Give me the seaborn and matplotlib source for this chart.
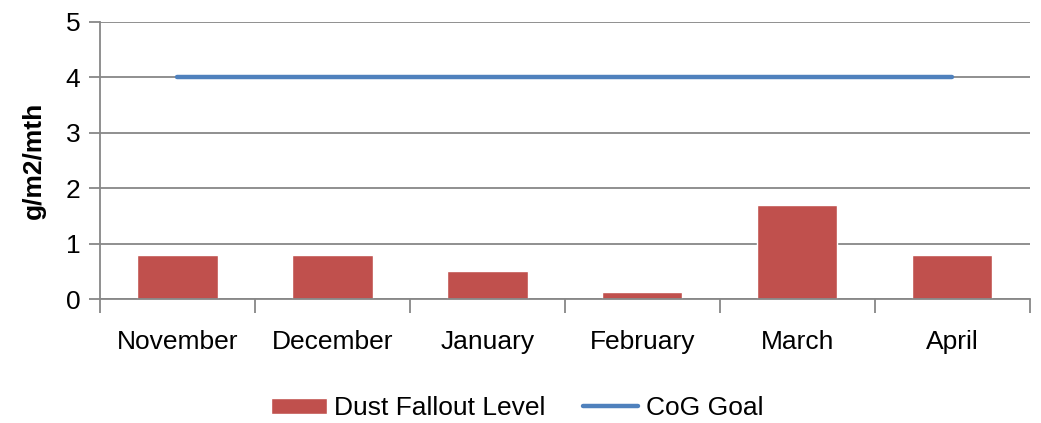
import numpy as np
import matplotlib
matplotlib.use("Agg")
import matplotlib.pyplot as plt
import seaborn as sns
import pandas as pd

months = ["November", "December", "January", "February", "March", "April"]
dust = [0.8, 0.8, 0.5, 0.12, 1.7, 0.8]
goal = [4, 4, 4, 4, 4, 4]

sns.set_style("white")
plt.rcParams["font.family"] = ["Liberation Sans", "DejaVu Sans"]
plt.rcParams["text.color"] = "black"

df = pd.DataFrame({"month": months, "dust": dust})

fig = plt.figure(figsize=(10.41, 4.23), dpi=100)
ax = fig.add_axes([0.096, 0.293, 0.893, 0.655])

grid_c = "#878787"
for y in range(0, 6):
    ax.axhline(y, color=grid_c, lw=1.3, zorder=0)

sns.barplot(data=df, x="month", y="dust", color="#C0504D", saturation=1,
            width=0.52, ax=ax, label="Dust Fallout Level", zorder=2)
ax.plot(np.arange(len(months)), goal, color="#4F81BD", lw=3.2,
        label="CoG Goal", zorder=3)
if ax.get_legend() is not None:
    ax.get_legend().remove()

ax.set_xlim(-0.5, len(months) - 0.5)
ax.set_ylim(0, 5)
ax.set_yticks(range(0, 6))
ax.set_xlabel("")
ax.set_ylabel("g/m2/mth", fontsize=19, fontweight="bold", labelpad=14, color="black")

ax.set_xticks(np.arange(len(months)))
ax.set_xticklabels(months)
ax.set_xticks(np.arange(-0.5, len(months)), minor=True)
ax.tick_params(axis="x", which="major", bottom=True, length=0, pad=22,
               labelsize=19, labelcolor="black")
ax.tick_params(axis="x", which="minor", bottom=True, length=10, width=1.3,
               color=grid_c, direction="out")
ax.tick_params(axis="y", left=True, length=8, width=1.3, color=grid_c,
               labelsize=19, pad=6, labelcolor="black")

for s in ["top", "right"]:
    ax.spines[s].set_visible(False)
for s in ["left", "bottom"]:
    ax.spines[s].set_color(grid_c)
    ax.spines[s].set_linewidth(1.3)

handles, labels = ax.get_legend_handles_labels()
order = [labels.index("Dust Fallout Level"), labels.index("CoG Goal")]
fig.legend([handles[i] for i in order], [labels[i] for i in order],
           loc="center", bbox_to_anchor=(0.497, 0.035),
           ncol=2, frameon=False, fontsize=19, handlelength=2.1,
           handleheight=0.6, columnspacing=1.4, handletextpad=0.3)

fig.savefig("out.png", dpi=100)
